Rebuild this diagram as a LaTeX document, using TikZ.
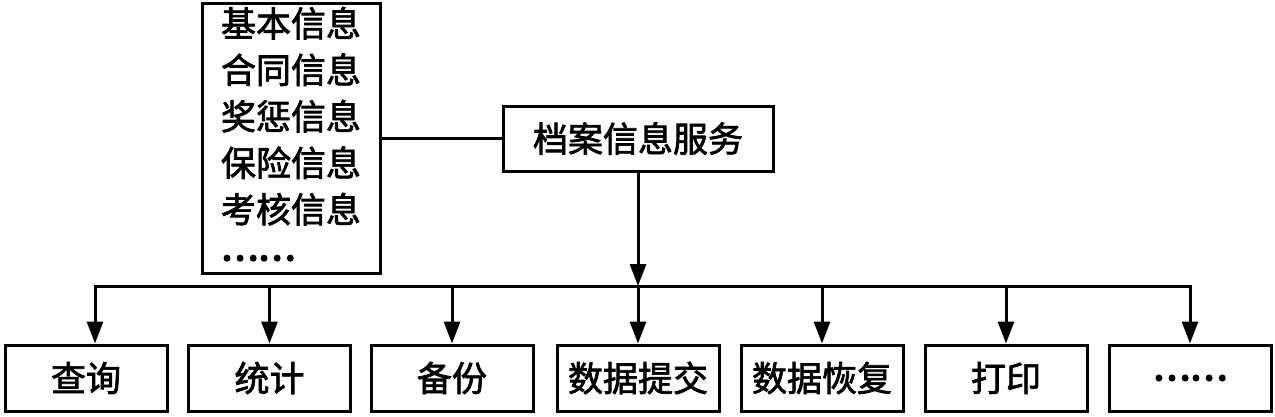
\documentclass[tikz,border=0pt]{standalone}
\usepackage{fontspec}
\newfontfamily\cjk{Noto Sans CJK SC}[FakeBold=2]
\newfontfamily\cjkdots{Noto Sans CJK SC}[FakeBold=6]
\newcommand{\mydots}{\smash{\raisebox{9pt}{\cjkdots ……}}}
\usetikzlibrary{arrows.meta}
\begin{document}
\begin{tikzpicture}[x=1pt,y=-1pt, line width=3pt,
  box/.style={draw, line width=3pt, minimum width=162pt, minimum height=66pt, inner sep=0pt,
    font=\cjk\fontsize{35}{42}\selectfont},
  arr/.style={-{Triangle[length=22pt,width=16pt]}}]
\useasboundingbox (0,0) rectangle (1275,416);
% top
\node[draw, line width=3pt, minimum width=178pt, minimum height=270pt, inner xsep=19pt, inner ysep=0pt,
  text width=140pt, align=left, font=\cjk\fontsize{35}{46.5}\selectfont] (info) at (291,138)
  {基本信息\\合同信息\\奖惩信息\\保险信息\\考核信息\\\mydots};
\node[box, minimum width=270pt, minimum height=65pt] (svc) at (638,138.5) {档案信息服务};
% bottom
\node[box] (b1) at (86,378) {查询};
\node[box] (b2) at (269.5,378) {统计};
\node[box] (b3) at (452,378) {备份};
\node[box] (b4) at (638,378) {数据提交};
\node[box] (b5) at (822,378) {数据恢复};
\node[box] (b6) at (1006,378) {打印};
\node[box] (b7) at (1190,378) {\cjkdots ……};
\coordinate (bl) at (95,286);
\coordinate (br) at (1190,286);
% connectors
\draw (info.east |- svc.west) -- (svc.west);
\draw[arr] (svc.south) -- (svc.south |- bl);
\draw[line cap=rect] (bl) -- (br);
\draw[arr] (bl) -- (bl |- b1.north);
\foreach \n in {b2,b3,b4,b5,b6,b7}{
  \draw[arr] (\n.north |- bl) -- (\n.north);
}
\end{tikzpicture}
\end{document}
